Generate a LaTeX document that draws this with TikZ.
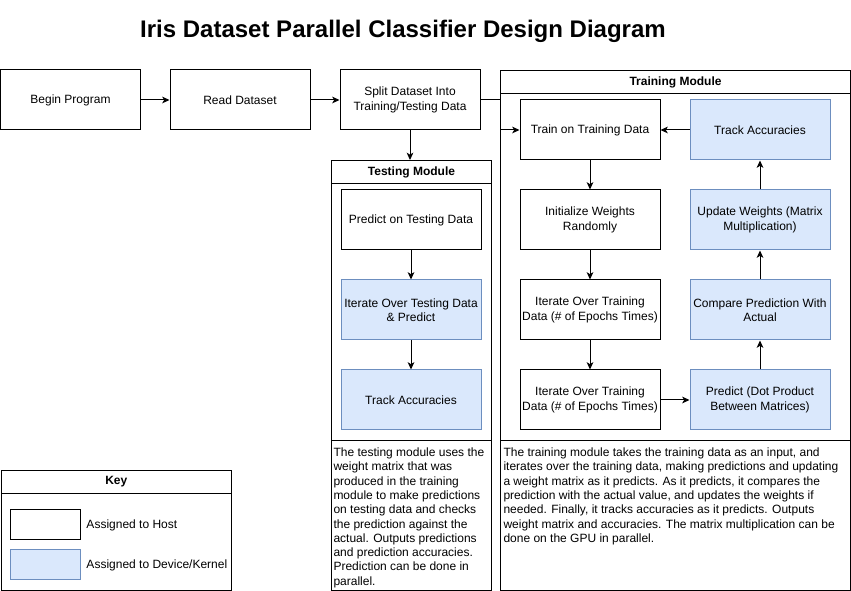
\documentclass[tikz,border=0pt]{standalone}
\usepackage{fontspec}
\setmainfont{Liberation Sans}
\usetikzlibrary{arrows.meta}
\definecolor{devfill}{HTML}{DAE8FC}
\definecolor{devdraw}{HTML}{6C8EBF}
\begin{document}
\begin{tikzpicture}[x=0.75pt,y=-0.75pt,
  line width=0.75pt,
  font=\fontsize{9}{10.7}\selectfont,
  box/.style={draw=black,line width=0.75pt,minimum width=105pt,minimum height=45pt,inner sep=0pt,align=center},
  dev/.style={box,draw=devdraw,fill=devfill},
  frame/.style={draw=black,line width=0.75pt,inner sep=0pt,anchor=north west},
  head/.style={frame,font=\bfseries\fontsize{9}{10.7}\selectfont},
  para/.style={anchor=north west,inner sep=0pt,align=left},
  arr/.style={-{Stealth[length=5.5pt,width=5pt,inset=1.5pt]}}]
\useasboundingbox[fill=white] (0,0) rectangle (851,591);

% title
\node[font=\bfseries\fontsize{18}{21}\selectfont] (title) at (403,31) {Iris Dataset Parallel Classifier Design Diagram};

% containers
\node[frame,minimum width=262.5pt,minimum height=277.5pt] (trmod) at (500,70) {};
\node[head,minimum width=262.5pt,minimum height=17.25pt] (trhead) at (500,70) {Training Module};
\node[frame,minimum width=120pt,minimum height=210pt] (temod) at (331,160) {};
\node[head,minimum width=120pt,minimum height=17.25pt] (tehead) at (331,160) {Testing Module};
\node[frame,minimum width=120pt,minimum height=112.5pt] (tetextbox) at (331,440) {};
\node[frame,minimum width=262.5pt,minimum height=112.5pt] (trtextbox) at (500,440) {};

% top row
\node[box,minimum width=104.6pt] (begin) at (70.5,100) {Begin Program};
\node[box] (read) at (240,100) {Read Dataset};
\node[box] (split) at (410,100) {Split Dataset Into\\Training/Testing Data};

% testing module
\node[box] (ptest) at (411,220) {Predict on Testing Data};
\node[dev] (itest) at (411,310) {Iterate Over Testing Data\\\& Predict};
\node[dev] (ttest) at (411,400) {Track Accuracies};

% training module
\node[box] (train) at (590,130) {Train on Training Data};
\node[box] (init) at (590,220) {Initialize Weights\\Randomly};
\node[box] (iter1) at (590,310) {Iterate Over Training\\Data (\# of Epochs Times)};
\node[box] (iter2) at (590,400) {Iterate Over Training\\Data (\# of Epochs Times)};
\node[dev] (track) at (760,130) {Track Accuracies};
\node[dev] (upd) at (760,220) {Update Weights (Matrix\\Multiplication)};
\node[dev] (cmp) at (760,310) {Compare Prediction With\\Actual};
\node[dev] (pred) at (760,400) {Predict (Dot Product\\Between Matrices)};

% descriptions
\node[para] (tetext) at (333,447.5) {The testing module uses the\\weight matrix that was\\produced in the training\\module to make predictions\\on testing data and checks\\the prediction against the\\actual. Outputs predictions\\and prediction accuracies.\\Prediction can be done in\\parallel.};
\node[para] (trtext) at (503,447.5) {The training module takes the training data as an input, and\\iterates over the training data, making predictions and updating\\a weight matrix as it predicts. As it predicts, it compares the\\prediction with the actual value, and updates the weights if\\needed. Finally, it tracks accuracies as it predicts. Outputs\\weight matrix and accuracies. The matrix multiplication can be\\done on the GPU in parallel.};

% key
\node[frame,minimum width=172.9pt,minimum height=90pt] (key) at (0.5,470) {};
\node[head,minimum width=172.9pt,minimum height=17.25pt] (keyhead) at (0.5,470) {Key};
\node[draw=black,minimum width=52.5pt,minimum height=22.5pt,inner sep=0pt] (hostsw) at (45,525) {};
\node[draw=devdraw,fill=devfill,minimum width=52.5pt,minimum height=22.5pt,inner sep=0pt] (devsw) at (45,565) {};
\node[anchor=west,inner sep=0pt] (hostlbl) at (86,525) {Assigned to Host};
\node[anchor=west,inner sep=0pt] (devlbl) at (86,565) {Assigned to Device/Kernel};

% connectors
\coordinate (j1) at (500,100);
\coordinate (j2) at (500,130);
\draw[arr] (begin) -- (read);
\draw[arr] (read) -- (split);
\draw[arr] (split.east) -- (j1) -- (j2) -- (train.west);
\draw[arr] (split.south) -- (split.south |- tehead.north);
\draw[arr] (ptest) -- (itest);
\draw[arr] (itest) -- (ttest);
\draw[arr] (train) -- (init);
\draw[arr] (init) -- (iter1);
\draw[arr] (iter1) -- (iter2);
\draw[arr] (iter2) -- (pred);
\draw[arr] (pred) -- (cmp);
\draw[arr] (cmp) -- (upd);
\draw[arr] (upd) -- (track);
\draw[arr] (track) -- (train);
\end{tikzpicture}
\end{document}
